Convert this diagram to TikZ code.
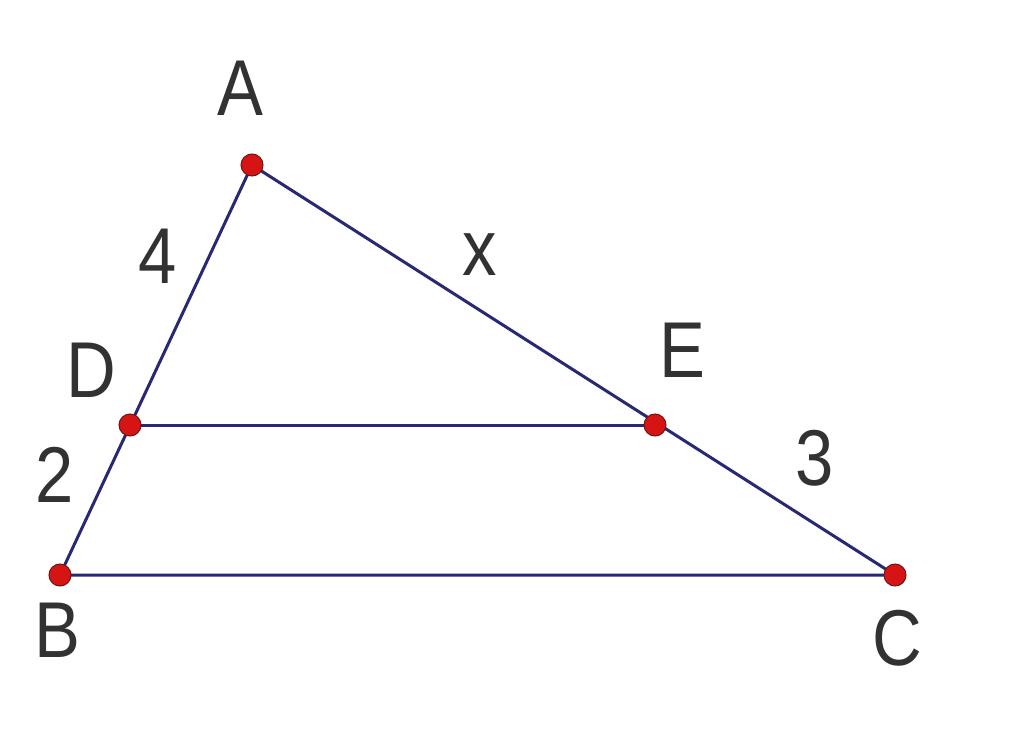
\documentclass[tikz,border=0pt]{standalone}
\usepackage{graphicx}
\usepackage{fontspec}
\setmainfont{Liberation Sans}
\newcommand{\lbltxt}[1]{\scalebox{0.93}[1.07]{#1}}
\begin{document}
\begin{tikzpicture}[x=1pt,y=-1pt,
  seg/.style={draw=linecol,line width=3pt},
  pt/.style={circle,fill=ptred,draw=ptedge,line width=1pt,minimum size=22pt,inner sep=0pt},
  lab/.style={text=labcol,font=\fontsize{74}{76}\selectfont,inner sep=0pt}]
\definecolor{linecol}{RGB}{40,40,115}
\definecolor{ptred}{RGB}{215,20,20}
\definecolor{ptedge}{RGB}{110,20,20}
\definecolor{labcol}{RGB}{50,50,50}
\useasboundingbox[fill=white] (0,0) rectangle (1024,736);
\coordinate (A) at (252,165);
\coordinate (D) at (130,425);
\coordinate (E) at (655,425);
\coordinate (B) at (60,575);
\coordinate (C) at (895,575);
\draw[seg] (B) -- (A) -- (C) -- cycle;
\draw[seg] (D) -- (E);
\foreach \p in {A,D,E,B,C} \node[pt] (n\p) at (\p) {};
\node[lab] (lA) at (240,88) {\lbltxt{A}};
\node[lab] (lD) at (91,370) {\lbltxt{D}};
\node[lab] (lE) at (682,350) {\lbltxt{E}};
\node[lab] (lB) at (57,630) {\lbltxt{B}};
\node[lab] (lC) at (897,638) {\lbltxt{C}};
\node[lab] (l4) at (158,256) {\lbltxt{4}};
\node[lab] (l2) at (55,475) {\lbltxt{2}};
\node[lab] (lx) at (480,255) {\lbltxt{x}};
\node[lab] (l3) at (815,458) {\lbltxt{3}};
\end{tikzpicture}
\end{document}
